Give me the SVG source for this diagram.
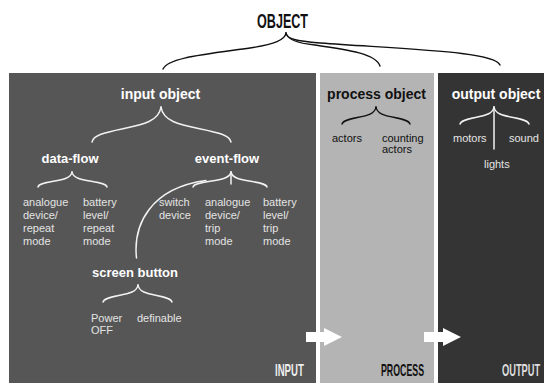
<svg xmlns="http://www.w3.org/2000/svg" width="544" height="383" viewBox="0 0 544 383">
<style>
.hd{font-family:"Liberation Sans",Arial,sans-serif;font-weight:bold;text-anchor:middle}
.big{font-family:"Liberation Sans",Arial,sans-serif;font-weight:bold}
.t{font-family:"Liberation Sans",Arial,sans-serif;font-size:11px}
.w{fill:#ffffff}
.lt{fill:#e4e4e4}
.dk{fill:#111111}
.bw{fill:none;stroke:#f2f2f2;stroke-width:1.5;stroke-linecap:round}
.bk{fill:none;stroke:#111111;stroke-width:1.4;stroke-linecap:round}
.arrow{fill:#ffffff}
</style>
<rect x="0" y="0" width="544" height="383" fill="#ffffff"/>
<g id="panels">
<rect id="input-panel" x="9" y="73" width="307" height="310" fill="#565656"/>
<rect id="process-panel" x="320" y="73" width="114" height="310" fill="#b4b4b4"/>
<rect id="output-panel" x="438" y="73" width="106" height="310" fill="#343434"/>
</g>
<g id="object"><text class="big dk" transform="translate(257,28) scale(0.6,1)" font-size="21">OBJECT</text></g>
<g id="input-object"><text class="hd w" x="160.5" y="99" font-size="14">input object</text></g>
<g id="data-flow"><text class="hd w" x="70" y="163" font-size="13">data-flow</text></g>
<g id="event-flow"><text class="hd w" x="227" y="163" font-size="13">event-flow</text></g>
<g id="screen-button"><text class="hd w" x="135" y="277" font-size="13">screen button</text></g>
<g id="process-object"><text class="hd dk" x="376.5" y="99" font-size="14">process object</text></g>
<g id="output-object"><text class="hd w" x="496" y="99" font-size="14">output object</text></g>
<g id="df-analogue"><text class="t lt" x="23" y="206">analogue</text><text class="t lt" x="23" y="219">device/</text><text class="t lt" x="23" y="232">repeat</text><text class="t lt" x="23" y="245">mode</text></g>
<g id="df-battery"><text class="t lt" x="83" y="206">battery</text><text class="t lt" x="83" y="219">level/</text><text class="t lt" x="83" y="232">repeat</text><text class="t lt" x="83" y="245">mode</text></g>
<g id="ef-switch"><text class="t lt" x="159" y="206">switch</text><text class="t lt" x="159" y="219">device</text></g>
<g id="ef-analogue"><text class="t lt" x="205" y="206">analogue</text><text class="t lt" x="205" y="219">device/</text><text class="t lt" x="205" y="232">trip</text><text class="t lt" x="205" y="245">mode</text></g>
<g id="ef-battery"><text class="t lt" x="263" y="206">battery</text><text class="t lt" x="263" y="219">level/</text><text class="t lt" x="263" y="232">trip</text><text class="t lt" x="263" y="245">mode</text></g>
<g id="sb-power"><text class="t lt" x="91" y="322">Power</text><text class="t lt" x="91" y="334">OFF</text></g>
<g id="sb-definable"><text class="t lt" x="137" y="322">definable</text></g>
<g id="po-actors"><text class="t dk" x="332" y="142">actors</text></g>
<g id="po-counting"><text class="t dk" x="382" y="142">counting</text><text class="t dk" x="382" y="153">actors</text></g>
<g id="oo-motors"><text class="t lt" x="453" y="142">motors</text></g>
<g id="oo-sound"><text class="t lt" x="509" y="142">sound</text></g>
<g id="oo-lights"><text class="t lt" x="484" y="168">lights</text></g>
<g id="stage-labels">
<text class="big" fill="#eeeeee" transform="translate(275,376) scale(0.6,1)" font-size="16">INPUT</text>
<text class="big dk" transform="translate(381,376) scale(0.55,1)" font-size="16">PROCESS</text>
<text class="big" fill="#dddddd" transform="translate(502,376) scale(0.58,1)" font-size="16">OUTPUT</text>
</g>
<g id="connectors">
<path class="bk" d="M286,33 C285,40 275,44 250,48 C200,55 168,58 163,69"/>
<path class="bk" d="M286,33 C287,39 296,43 315,45 C350,50 376,54 380,66"/>
<path class="bk" d="M286,33 C287,39 296,41 320,43 C420,50 495,52 500,65"/>
<path class="bw" d="M161,107 C158.9,121 143.75,124.5 123,128.7 C102.4,132.9 93.4,135.7 92,142"/>
<path class="bw" d="M161,107 C163.1,121 178.5,124.5 199.5,128.7 C220.5,132.9 229.6,135.7 231,142"/>
<path class="bw" d="M72,172 C71,178 63.5,179.5 53.3,181.3 C43.1,183.1 38.7,184.3 38,187"/>
<path class="bw" d="M72,172 C73,178 80.75,179.5 91.25,181.3 C101.75,183.1 106.3,184.3 107,187"/>
<path class="bw" d="M231,172 C229.9,178 221.5,179.5 210.1,181.3 C198.7,183.1 193.8,184.3 193,187"/>
<path class="bw" d="M231,172 C232.1,178 240,179.5 250.8,181.3 C261.6,183.1 266.3,184.3 267,187"/>
<path class="bw" d="M231,172 V184"/>
<path class="bw" d="M136.5,258 C133,225 150,188 206,180.5"/>
<path class="bw" d="M138,285 C137,291.8 129.25,293.5 118.75,295.5 C108.25,297.6 103.7,298.9 103,302"/>
<path class="bw" d="M138,285 C139,291.8 146.5,293.5 156.7,295.5 C166.9,297.6 171.3,298.9 172,302"/>
<path class="bk" d="M376,107 C375,113.8 367.5,115.5 357.3,117.5 C347.1,119.6 342.7,120.9 342,124"/>
<path class="bk" d="M376,107 C377,113.8 384.5,115.5 394.7,117.5 C404.9,119.6 409.3,120.9 410,124"/>
<path class="bw" d="M494,107 C493,113.8 485.5,115.5 475.3,117.5 C465.1,119.6 460.7,120.9 460,124"/>
<path class="bw" d="M494,107 C495,113.8 502.75,115.5 513.25,117.5 C523.75,119.6 528.3,120.9 529,124"/>
<path class="bw" d="M494,107 V149"/>
<path class="arrow" d="M306,332 H324 V328 L342,337 L324,346 V342 H306 Z"/>
<path class="arrow" d="M424,332 H443 V328 L461,337 L443,346 V342 H424 Z"/>
</g>
</svg>
